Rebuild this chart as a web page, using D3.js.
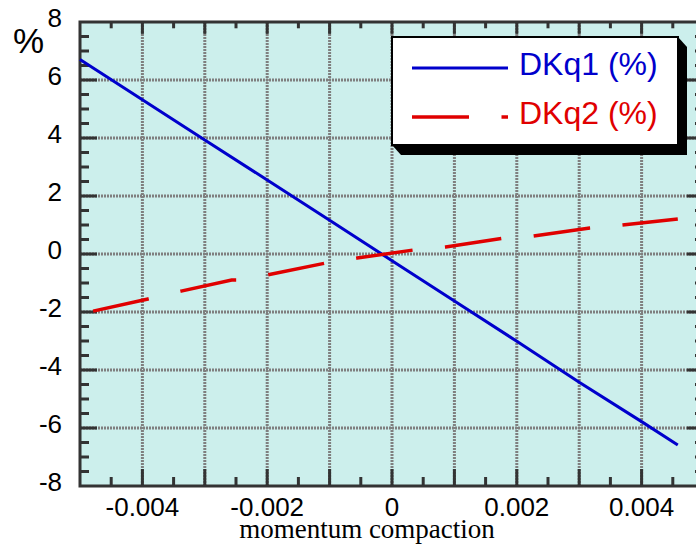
<!DOCTYPE html>
<html>
<head>
<meta charset="utf-8">
<script src="https://d3js.org/d3.v7.min.js"></script>
<style>
  body { margin: 0; background: #fff; }
  svg { display: block; }
</style>
</head>
<body>
<svg></svg>
<script>
// Data
var xTickLabels = [-0.004, -0.002, 0, 0.002, 0.004];
var yTickLabels = [-8, -6, -4, -2, 0, 2, 4, 6, 8];

var dkq1X = [-0.005, -0.004, -0.003, -0.002, -0.001, 0, 0.001, 0.002, 0.003, 0.004, 0.00458];
var dkq1Y = [6.71, 5.32, 3.93, 2.55, 1.16, -0.23, -1.62, -3.01, -4.42, -5.78, -6.59];

var dkq2X = [-0.00479, -0.00391, -0.00338, -0.00257, -0.00249, -0.00199, -0.00106, -0.00056, 0.00035, 0.00086, 0.00176, 0.00226, 0.00317, 0.00368, 0.00458];
var dkq2Y = [-1.97, -1.55, -1.28, -0.90, -0.90, -0.72, -0.31, -0.14, 0.14, 0.24, 0.54, 0.62, 0.90, 1.00, 1.21];

var seriesNames = ["DKq1 (%)", "DKq2 (%)"];

var width = 696, height = 544;
var margin = {top: 22, right: -8, bottom: 58, left: 80};

var svg = d3.select("svg")
    .attr("width", width)
    .attr("height", height);

var x = d3.scaleLinear()
    .domain([-0.005, 0.005])
    .range([margin.left, width - margin.right]);

var y = d3.scaleLinear()
    .domain([-8, 8])
    .range([height - margin.bottom, margin.top]);

var axisColor = "#333";

// plot background
svg.append("rect")
    .attr("x", x(-0.005))
    .attr("y", y(8))
    .attr("width", x(0.005) - x(-0.005))
    .attr("height", y(-8) - y(8))
    .attr("fill", "#ccefec");

// dotted grid
var grid = svg.append("g")
    .attr("stroke", "#7f7f7f")
    .attr("stroke-width", 3)
    .attr("stroke-dasharray", "2,1");

grid.selectAll("line.vx")
    .data(d3.range(-4, 5).map(function(d) { return d / 1000; }))
    .join("line")
    .attr("class", "vx")
    .attr("x1", function(d) { return x(d); })
    .attr("x2", function(d) { return x(d); })
    .attr("y1", y(8))
    .attr("y2", y(-8));

grid.selectAll("line.hy")
    .data([-6, -4, -2, 0, 2, 4, 6])
    .join("line")
    .attr("class", "hy")
    .attr("x1", x(-0.005))
    .attr("x2", x(0.005))
    .attr("y1", function(d) { return y(d); })
    .attr("y2", function(d) { return y(d); });

// ticks on all four sides
var xMajor = d3.range(-4, 5).map(function(d) { return d / 1000; });
var xMinor = d3.range(-9, 10, 2).map(function(d) { return d / 2000; });
var yMajor = [-6, -4, -2, 0, 2, 4, 6];
var yMinor = d3.range(-15, 16).map(function(d) { return d / 2; })
    .filter(function(d) { return d % 2 !== 0; });

var ticks = svg.append("g")
    .attr("stroke", axisColor)
    .attr("stroke-width", 3);

function xTicks(vals, len, cls) {
    ticks.selectAll("line.b" + cls).data(vals).join("line")
        .attr("class", "b" + cls)
        .attr("x1", function(d) { return x(d); })
        .attr("x2", function(d) { return x(d); })
        .attr("y1", y(-8))
        .attr("y2", y(-8) - len);
    ticks.selectAll("line.t" + cls).data(vals).join("line")
        .attr("class", "t" + cls)
        .attr("x1", function(d) { return x(d); })
        .attr("x2", function(d) { return x(d); })
        .attr("y1", y(8))
        .attr("y2", y(8) + len * 0.7);
}
function yTicks(vals, len, cls) {
    ticks.selectAll("line.l" + cls).data(vals).join("line")
        .attr("class", "l" + cls)
        .attr("x1", x(-0.005))
        .attr("x2", x(-0.005) + len)
        .attr("y1", function(d) { return y(d); })
        .attr("y2", function(d) { return y(d); });
    ticks.selectAll("line.r" + cls).data(vals).join("line")
        .attr("class", "r" + cls)
        .attr("x1", x(0.005))
        .attr("x2", x(0.005) - len)
        .attr("y1", function(d) { return y(d); })
        .attr("y2", function(d) { return y(d); });
}
xTicks(xMajor, 17, "M");
xTicks(xMinor, 9, "m");
yTicks(yMajor, 17, "M");
yTicks(yMinor, 9, "m");

// frame
svg.append("rect")
    .attr("x", x(-0.005))
    .attr("y", y(8))
    .attr("width", x(0.005) - x(-0.005))
    .attr("height", y(-8) - y(8))
    .attr("fill", "none")
    .attr("stroke", axisColor)
    .attr("stroke-width", 3);

// tick labels (plain hyphen minus, as in the original)
svg.append("g")
    .selectAll("text")
    .data(xTickLabels)
    .join("text")
    .attr("x", function(d) { return x(d); })
    .attr("y", y(-8) + 30)
    .attr("text-anchor", "middle")
    .attr("font-family", "Liberation Sans, Arial, sans-serif")
    .attr("font-size", 26)
    .attr("fill", "#000")
    .text(function(d) { return String(d); });

svg.append("g")
    .selectAll("text")
    .data(yTickLabels)
    .join("text")
    .attr("x", 62)
    .attr("y", function(d) { return y(d) + 5; })
    .attr("text-anchor", "end")
    .attr("font-family", "Liberation Sans, Arial, sans-serif")
    .attr("font-size", 26)
    .attr("fill", "#000")
    .text(function(d) { return String(d); });

svg.append("text")
    .attr("x", 13)
    .attr("y", 53)
    .attr("font-family", "Liberation Sans, Arial, sans-serif")
    .attr("font-size", 35)
    .text("%");

svg.append("text")
    .attr("x", 367)
    .attr("y", 538)
    .attr("text-anchor", "middle")
    .attr("font-family", "Liberation Serif, Times New Roman, serif")
    .attr("font-size", 27)
    .text("momentum compaction");

// series lines
var line = d3.line()
    .x(function(d) { return x(d[0]); })
    .y(function(d) { return y(d[1]); });

svg.append("path")
    .datum(d3.zip(dkq1X, dkq1Y))
    .attr("d", line)
    .attr("fill", "none")
    .attr("stroke", "#0000cc")
    .attr("stroke-width", 3);

svg.append("path")
    .datum(d3.zip(dkq2X, dkq2Y))
    .attr("d", line)
    .attr("fill", "none")
    .attr("stroke", "#e00000")
    .attr("stroke-width", 3.5)
    .attr("stroke-dasharray", "57,32.5");

// legend with bevelled shadow
var lg = {x0: 392, y0: 37, x1: 678, y1: 145, dx: 9, dy: 10};
svg.append("polygon")
    .attr("points", [
        [lg.x1, lg.y0], [lg.x1 + lg.dx, lg.y0 + lg.dy], [lg.x1 + lg.dx, lg.y1 + lg.dy],
        [lg.x0 + lg.dx, lg.y1 + lg.dy], [lg.x0, lg.y1]
    ].join(" "))
    .attr("fill", "#000");
svg.append("rect")
    .attr("x", lg.x0)
    .attr("y", lg.y0)
    .attr("width", lg.x1 - lg.x0)
    .attr("height", lg.y1 - lg.y0)
    .attr("fill", "#fff")
    .attr("stroke", "#000")
    .attr("stroke-width", 2);

var legendRows = [
    {name: seriesNames[0], color: "#0000cc", dash: null, w: 3, y: 68},
    {name: seriesNames[1], color: "#e00000", dash: "57,32.5", w: 3.5, y: 117}
];
legendRows.forEach(function(r) {
    svg.append("line")
        .attr("x1", 412).attr("x2", 508)
        .attr("y1", r.y).attr("y2", r.y)
        .attr("stroke", r.color)
        .attr("stroke-width", r.w)
        .attr("stroke-dasharray", r.dash);
    svg.append("text")
        .attr("x", 519)
        .attr("y", r.y + 7)
        .attr("font-family", "Liberation Sans, Arial, sans-serif")
        .attr("font-size", 32)
        .attr("fill", r.color)
        .text(r.name);
});
</script>
</body>
</html>
